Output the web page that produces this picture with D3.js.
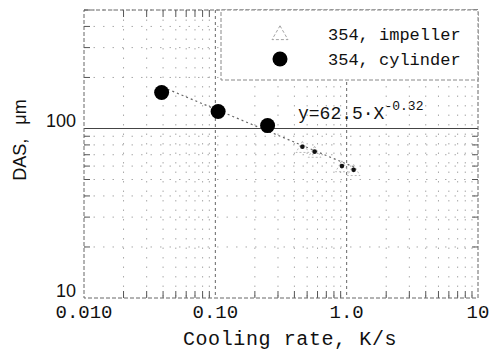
<!DOCTYPE html>
<html><head><meta charset="utf-8">
<script src="https://cdn.jsdelivr.net/npm/d3@7"></script>
<style>
body{margin:0;background:#fff;}
svg{display:block;}
</style></head>
<body>
<svg id="chart" width="495" height="350"></svg>
<script>
// ---- data ----
const cylinderX = [0.039, 0.105, 0.25];
const cylinderY = [163, 126, 104];
const impellerX = [0.46, 0.57, 0.92, 1.13];
const impellerY = [78, 73, 60, 57];
const fitX = [0.04, 1.15];
const fitY = [175, 59];
const xTickValues = [0.01, 0.1, 1, 10];
const xTickLabels = ["0.010", "0.10", "1.0", "10"];
const yTickValues = [10, 100];
const yTickLabels = ["10", "100"];
const legendLabels = ["354, impeller", "354, cylinder"];

const svg = d3.select("#chart");
const L = 84, R = 478, T = 10, B = 298;
const x = d3.scaleLog().domain([0.01, 10]).range([L, R]);
const y = d3.scaleLog().domain([10, 500]).range([B, T]);

const xMinor = [];
[0.01, 0.1, 1].forEach(d => { for (let k = 2; k <= 9; k++) xMinor.push(d * k); });
const yMinor = [];
[10, 100].forEach(d => { for (let k = 2; k <= 9; k++) if (d * k <= 500) yMinor.push(d * k); });

const grid = svg.append("g");
// minor grid
grid.selectAll(".vx").data(xMinor).join("line")
  .attr("x1", d => x(d)).attr("x2", d => x(d)).attr("y1", T).attr("y2", B)
  .attr("stroke", "#aaa").attr("stroke-width", 1).attr("stroke-dasharray", "1.5,8");
grid.selectAll(".hy").data(yMinor).join("line")
  .attr("y1", d => y(d)).attr("y2", d => y(d)).attr("x1", L).attr("x2", R)
  .attr("stroke", "#aaa").attr("stroke-width", 1).attr("stroke-dasharray", "1.5,8");
// major grid
grid.selectAll(".mx").data([0.1, 1]).join("line")
  .attr("x1", d => x(d)).attr("x2", d => x(d)).attr("y1", T).attr("y2", B)
  .attr("stroke", "#666").attr("stroke-width", 1).attr("stroke-dasharray", "3,3");
grid.append("line").attr("x1", L).attr("x2", R).attr("y1", y(100)).attr("y2", y(100))
  .attr("stroke", "#444").attr("stroke-width", 1.2);

// minor ticks (inward)
const tk = svg.append("g").attr("stroke", "#555").attr("stroke-width", 1);
xMinor.forEach(d => {
  tk.append("line").attr("x1", x(d)).attr("x2", x(d)).attr("y1", B).attr("y2", B - 7);
  tk.append("line").attr("x1", x(d)).attr("x2", x(d)).attr("y1", T).attr("y2", T + 7);
});
yMinor.forEach(d => {
  tk.append("line").attr("y1", y(d)).attr("y2", y(d)).attr("x1", L).attr("x2", L + 6);
  tk.append("line").attr("y1", y(d)).attr("y2", y(d)).attr("x1", R).attr("x2", R - 6);
});

// frame
svg.append("rect").attr("x", L).attr("y", T).attr("width", R - L).attr("height", B - T)
  .attr("fill", "none").attr("stroke", "#666").attr("stroke-width", 1).attr("stroke-dasharray", "4,2");

// legend box
svg.append("rect").attr("x", 221).attr("y", T).attr("width", R - 221).attr("height", 70)
  .attr("fill", "#fff").attr("stroke", "#888").attr("stroke-width", 1).attr("stroke-dasharray", "4,2");

// fit line
svg.append("line")
  .attr("x1", x(fitX[0])).attr("y1", y(fitY[0])).attr("x2", x(fitX[1])).attr("y2", y(fitY[1]))
  .attr("stroke", "#666").attr("stroke-width", 1.2).attr("stroke-dasharray", "2,3");

// impeller points
const tri = d3.symbol().type(d3.symbolTriangle).size(70);
svg.selectAll(".imp").data(impellerX).join("path")
  .attr("d", tri).attr("transform", (d, i) => `translate(${x(d)},${y(impellerY[i]) + 2})`)
  .attr("fill", "none").attr("stroke", "#aaa").attr("stroke-width", 0.8).attr("stroke-dasharray", "2,2");
svg.selectAll(".impd").data(impellerX).join("circle")
  .attr("cx", d => x(d)).attr("cy", (d, i) => y(impellerY[i])).attr("r", 2.3).attr("fill", "#111");

// cylinder points
svg.selectAll(".cyl").data(cylinderX).join("circle")
  .attr("cx", d => x(d)).attr("cy", (d, i) => y(cylinderY[i])).attr("r", 7.5).attr("fill", "#000");

// legend content
svg.append("path").attr("d", d3.symbol().type(d3.symbolTriangle).size(110))
  .attr("transform", "translate(280,35)").attr("fill", "none").attr("stroke", "#999")
  .attr("stroke-width", 0.9).attr("stroke-dasharray", "3,2");
svg.append("circle").attr("cx", 280).attr("cy", 59).attr("r", 7.5).attr("fill", "#000");
svg.selectAll(".lt").data(legendLabels).join("text")
  .attr("x", 328).attr("y", (d, i) => 40 + i * 25)
  .attr("font-family", "Liberation Mono, monospace").attr("font-size", 17).attr("fill", "#111")
  .text(d => d);

// equation
const eq = svg.append("text").attr("x", 298).attr("y", 119)
  .attr("font-family", "Liberation Mono, monospace").attr("font-size", 18).attr("fill", "#111");
eq.append("tspan").text("y=62.5·X");
eq.append("tspan").attr("dy", -9).attr("font-size", 13).text("-0.32");

// x tick labels
svg.selectAll(".xl").data(xTickValues).join("text")
  .attr("x", d => x(d)).attr("y", 318).attr("text-anchor", "middle")
  .attr("font-family", "Liberation Mono, monospace").attr("font-size", 19).attr("fill", "#111")
  .text((d, i) => xTickLabels[i]);
// y tick labels
svg.selectAll(".yl").data(yTickValues).join("text")
  .attr("x", 76).attr("y", d => y(d) - 1).attr("text-anchor", "end")
  .attr("font-family", "Liberation Sans, Arial, sans-serif").attr("font-size", 18).attr("fill", "#111")
  .text((d, i) => yTickLabels[i]);

// axis titles
svg.append("text").attr("x", 290).attr("y", 345).attr("text-anchor", "middle")
  .attr("font-family", "Liberation Mono, monospace").attr("font-size", 20).attr("letter-spacing", 0.6)
  .attr("fill", "#111").text("Cooling rate, K/s");
const yt = svg.append("text").attr("transform", "translate(26,140) rotate(-90)").attr("text-anchor", "middle")
  .attr("font-family", "Liberation Sans, Arial, sans-serif").attr("font-size", 18).attr("fill", "#111");
yt.append("tspan").text("DAS,");
yt.append("tspan").attr("dx", 14).text("μm");
</script>
</body></html>
